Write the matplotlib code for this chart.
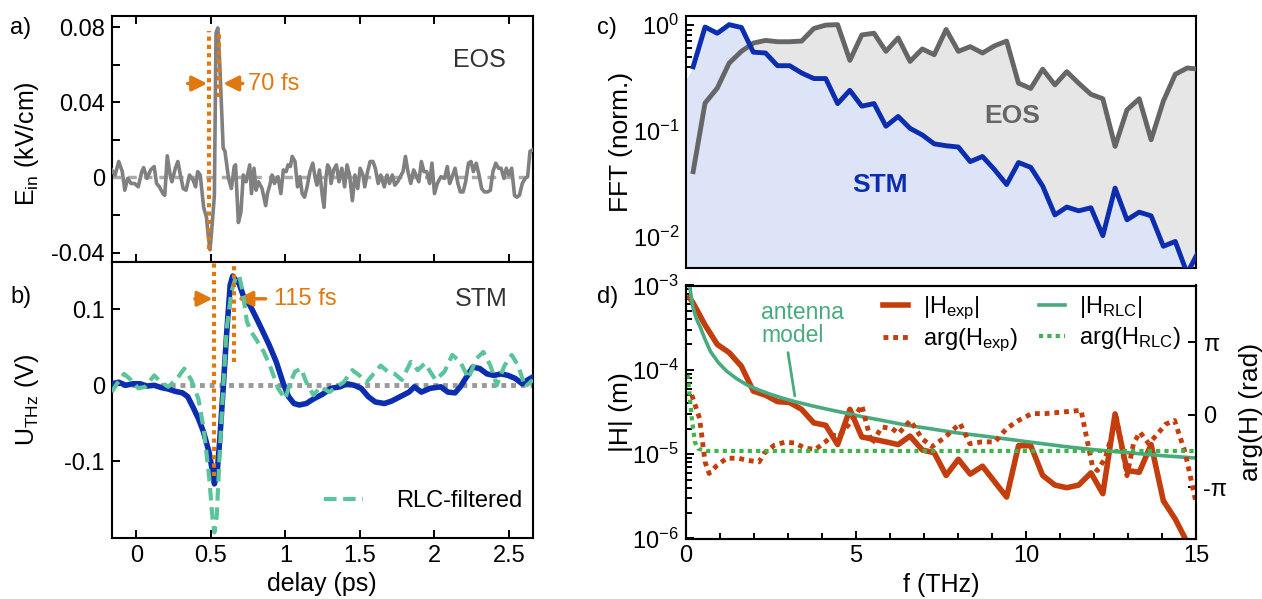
import numpy as np
import matplotlib
matplotlib.use('Agg')
import matplotlib.pyplot as plt
from matplotlib.ticker import FixedLocator, MultipleLocator, LogLocator, NullFormatter, FuncFormatter

plt.rcParams['font.family'] = ['Liberation Sans', 'DejaVu Sans']
plt.rcParams['mathtext.fontset'] = 'custom'
plt.rcParams['mathtext.rm'] = 'Liberation Sans'
plt.rcParams['mathtext.it'] = 'Liberation Sans:italic'
plt.rcParams['mathtext.bf'] = 'Liberation Sans:bold'

# ---------------- panel a: EOS transient ----------------
eos_t = [-0.166, -0.143, -0.119, -0.095, -0.078, -0.059, -0.036, -0.012, 0.012, 0.036,
         0.048, 0.071, 0.095, 0.119, 0.135, 0.154, 0.178, 0.190, 0.207, 0.226,
         0.238, 0.261, 0.278, 0.297, 0.314, 0.333, 0.356, 0.380, 0.397, 0.411,
         0.428, 0.451, 0.470, 0.482, 0.494, 0.511, 0.523, 0.534, 0.546, 0.558,
         0.582, 0.594, 0.618, 0.637, 0.656, 0.665, 0.684, 0.701, 0.717, 0.736,
         0.748, 0.760, 0.772, 0.789, 0.803, 0.819, 0.843, 0.867, 0.879, 0.895,
         0.910, 0.926, 0.950, 0.969, 0.986, 1.005, 1.017, 1.033, 1.045, 1.064,
         1.081, 1.097, 1.112, 1.128, 1.145, 1.164, 1.183, 1.200, 1.211, 1.228,
         1.247, 1.259, 1.271, 1.283, 1.295, 1.306, 1.323, 1.342, 1.359, 1.378,
         1.397, 1.413, 1.430, 1.449, 1.466, 1.485, 1.501, 1.520, 1.532, 1.551,
         1.568, 1.587, 1.603, 1.622, 1.639, 1.663, 1.682, 1.698, 1.717, 1.734,
         1.753, 1.770, 1.789, 1.805, 1.822, 1.841, 1.860, 1.876, 1.895, 1.912,
         1.929, 1.948, 1.967, 1.983, 2.000, 2.019, 2.043, 2.067, 2.086, 2.102,
         2.119, 2.138, 2.157, 2.173, 2.192, 2.209, 2.228, 2.245, 2.261, 2.280,
         2.299, 2.316, 2.335, 2.356, 2.375, 2.392, 2.411, 2.430, 2.447, 2.466,
         2.482, 2.499, 2.518, 2.537, 2.553, 2.570, 2.589, 2.608, 2.625, 2.641,
         2.660]
eos_E = [0.0040, 0.0013, 0.0085, 0.0031, -0.0068, -0.0005, -0.0032, -0.0032, -0.0050, 0.0031,
         0.0052, -0.0005, 0.0040, 0.0058, -0.0032, -0.0050, -0.0086, -0.0095, 0.0115, 0.0013,
         -0.0023, 0.0049, 0.0085, 0.0004, -0.0059, -0.0068, 0.0013, -0.0014, -0.0050, 0.0031,
         0.0013, -0.0159, -0.0213, -0.0312, -0.0385, -0.0222, -0.0095, 0.0769, 0.0796, 0.0625,
         0.0157, 0.0139, -0.0005, -0.0059, 0.0058, 0.0067, -0.0240, -0.0186, 0.0013, -0.0023,
         0.0022, 0.0067, -0.0086, 0.0049, -0.0068, -0.0023, -0.0059, -0.0150, -0.0086, -0.0041,
         0.0013, -0.0032, 0.0004, -0.0086, 0.0040, 0.0031, 0.0067, 0.0058, 0.0112, 0.0085,
         -0.0050, 0.0004, -0.0086, -0.0105, -0.0050, 0.0031, 0.0076, -0.0005, -0.0041, 0.0040,
         -0.0095, -0.0159, -0.0005, 0.0067, 0.0049, -0.0032, 0.0040, 0.0067, -0.0023, 0.0049,
         -0.0050, 0.0067, 0.0013, -0.0123, 0.0013, -0.0059, 0.0049, 0.0013, -0.0050, 0.0031,
         0.0085, 0.0085, 0.0049, -0.0032, 0.0013, -0.0050, 0.0013, -0.0032, 0.0013, -0.0041,
         -0.0023, 0.0004, 0.0031, 0.0112, 0.0031, -0.0032, 0.0040, 0.0013, -0.0023, 0.0085,
         0.0031, 0.0031, -0.0032, 0.0076, -0.0086, -0.0032, 0.0004, -0.0005, 0.0058, -0.0032,
         0.0004, 0.0049, -0.0032, -0.0077, -0.0077, -0.0023, 0.0076, 0.0085, 0.0031, 0.0076,
         0.0013, -0.0059, -0.0077, -0.0077, -0.0068, 0.0031, 0.0076, 0.0049, 0.0049, -0.0005,
         0.0049, 0.0013, 0.0049, -0.0095, -0.0105, -0.0095, -0.0032, -0.0005, 0.0004, 0.0139,
         0.0148]

# ---------------- panel b: STM signal and RLC-filtered ----------------
stm_t = [-0.166, -0.119, -0.071, -0.024, 0.024, 0.071, 0.119, 0.166, 0.214, 0.261,
         0.309, 0.344, 0.380, 0.416, 0.451, 0.487, 0.511, 0.523, 0.542, 0.558,
         0.582, 0.606, 0.629, 0.646, 0.665, 0.689, 0.724, 0.760, 0.796, 0.843,
         0.891, 0.938, 0.986, 1.021, 1.057, 1.093, 1.140, 1.188, 1.247, 1.306,
         1.366, 1.413, 1.461, 1.508, 1.556, 1.603, 1.663, 1.710, 1.770, 1.829,
         1.865, 1.912, 1.971, 2.043, 2.090, 2.138, 2.173, 2.209, 2.257, 2.304,
         2.352, 2.399, 2.447, 2.494, 2.542, 2.589, 2.625, 2.660]
stm_U = [0.002, 0.004, 0.000, 0.002, 0.002, -0.001, 0.000, -0.003, -0.005, -0.008,
         -0.010, -0.015, -0.029, -0.044, -0.062, -0.088, -0.114, -0.130, -0.114, -0.075,
         -0.004, 0.070, 0.132, 0.144, 0.139, 0.134, 0.114, 0.106, 0.092, 0.073,
         0.053, 0.031, 0.002, -0.015, -0.024, -0.026, -0.024, -0.018, -0.012, -0.004,
         -0.002, 0.002, 0.000, -0.004, -0.015, -0.022, -0.024, -0.021, -0.015, -0.009,
         -0.002, -0.009, -0.004, -0.002, -0.009, -0.010, -0.002, 0.009, 0.024, 0.022,
         0.015, 0.013, 0.015, 0.013, 0.009, 0.002, 0.007, 0.011]

rlc_t = [-0.166, -0.131, -0.083, -0.036, 0.012, 0.059, 0.119, 0.166, 0.214, 0.273,
         0.321, 0.368, 0.416, 0.451, 0.487, 0.511, 0.523, 0.539, 0.558, 0.582,
         0.606, 0.637, 0.665, 0.689, 0.713, 0.741, 0.772, 0.808, 0.855, 0.903,
         0.950, 0.998, 1.033, 1.064, 1.105, 1.140, 1.188, 1.235, 1.295, 1.342,
         1.390, 1.449, 1.496, 1.544, 1.591, 1.639, 1.686, 1.734, 1.781, 1.841,
         1.888, 1.936, 2.007, 2.067, 2.119, 2.173, 2.228, 2.280, 2.328, 2.375,
         2.418, 2.470, 2.518, 2.561, 2.608, 2.660]
rlc_U = [-0.009, 0.002, 0.015, 0.007, -0.004, -0.002, 0.013, 0.004, -0.002, 0.009,
         0.022, 0.007, -0.018, -0.057, -0.119, -0.176, -0.194, -0.172, -0.092, -0.004,
         0.075, 0.123, 0.141, 0.145, 0.123, 0.084, 0.070, 0.059, 0.044, 0.022,
         -0.004, -0.018, 0.004, 0.018, 0.022, 0.004, -0.013, -0.002, -0.009, -0.002,
         0.004, 0.020, 0.013, 0.004, 0.015, 0.026, 0.018, 0.015, 0.007, 0.031,
         0.020, 0.029, 0.007, 0.018, 0.040, 0.031, 0.009, 0.035, 0.044, 0.026,
         0.000, 0.026, 0.040, 0.026, -0.002, 0.007]

# ---------------- panel c: normalized spectra ----------------
fft_f = [0.21, 0.56, 0.92, 1.27, 1.63, 1.98, 2.34, 2.69, 3.05, 3.40,
         3.76, 4.11, 4.46, 4.82, 5.17, 5.53, 5.88, 6.24, 6.59, 6.95,
         7.30, 7.65, 8.01, 8.36, 8.72, 9.07, 9.43, 9.78, 10.14, 10.49,
         10.85, 11.20, 11.55, 11.91, 12.26, 12.62, 12.97, 13.33, 13.68, 14.04,
         14.39, 14.74, 15.10]
fft_stm = [0.40, 0.95, 0.83, 1.00, 0.94, 0.55, 0.54, 0.41, 0.41, 0.35,
           0.31, 0.31, 0.18, 0.24, 0.17, 0.18, 0.11, 0.136, 0.105, 0.091,
           0.075, 0.072, 0.070, 0.051, 0.057, 0.043, 0.031, 0.050, 0.045, 0.030,
           0.016, 0.019, 0.0175, 0.0187, 0.0102, 0.0287, 0.0144, 0.017, 0.0157, 0.0081,
           0.0090, 0.0045, 0.0075]
fft_eos = [0.041, 0.182, 0.252, 0.434, 0.56, 0.67, 0.71, 0.69, 0.69, 0.70,
           0.92, 0.99, 1.00, 0.46, 0.80, 0.83, 0.56, 0.75, 0.45, 0.59,
           0.52, 0.90, 0.56, 0.62, 0.54, 0.63, 0.70, 0.28, 0.25, 0.38,
           0.27, 0.36, 0.28, 0.22, 0.20, 0.071, 0.157, 0.20, 0.082, 0.19,
           0.34, 0.39, 0.38]
stm_fill_f0 = 0.0
stm_fill_v0 = 0.30

# ---------------- panel d: transfer function ----------------
hexp_f = [0.10, 0.21, 0.56, 0.92, 1.27, 1.63, 1.98, 2.34, 2.69, 3.05, 3.40,
          3.76, 4.11, 4.46, 4.82, 5.17, 5.53, 5.88, 6.24, 6.59, 6.95,
          7.30, 7.65, 8.01, 8.36, 8.72, 9.43, 9.78, 10.14, 10.49,
          10.85, 11.20, 11.55, 11.91, 12.26, 12.62, 12.97, 13.33, 13.68, 14.04,
          14.39, 14.74]
hexp_abs = [7.2e-4, 6.2e-4, 3.4e-4, 2.0e-4, 1.6e-4, 1.1e-4, 5.6e-5, 5.0e-5, 4.2e-5, 4.1e-5, 3.4e-5,
            2.35e-5, 2.2e-5, 1.3e-5, 3.4e-5, 1.6e-5, 1.5e-5, 1.4e-5, 1.3e-5, 1.64e-5, 1.12e-5,
            1.04e-5, 5.6e-6, 8.7e-6, 5.8e-6, 7.2e-6, 3.1e-6, 1.26e-5, 1.26e-5, 5.6e-6,
            4.3e-6, 4.0e-6, 4.3e-6, 6.0e-6, 3.4e-6, 3.0e-5, 6.4e-6, 6.1e-6, 1.3e-5, 2.8e-6,
            1.7e-6, 0.9e-6]

harg_f = [0.17, 0.40, 0.56, 0.68, 0.91, 1.20, 1.55, 1.80, 2.15, 2.30,
          2.60, 2.90, 3.20, 3.50, 3.80, 4.10, 4.30, 4.50, 4.76, 5.00,
          5.17, 5.46, 5.76, 6.06, 6.25, 6.60, 6.94, 7.24, 7.62, 8.06,
          8.35, 8.70, 9.09, 9.43, 9.78, 10.17, 10.56, 11.15, 11.62, 11.95,
          12.10, 12.34, 12.66, 12.97, 13.16, 13.35, 13.61, 13.86, 14.11, 14.37,
          14.68, 15.00]
harg_pi = [0.27, -0.05, -0.65, -0.81, -0.70, -0.60, -0.60, -0.63, -0.65, -0.53,
           -0.42, -0.38, -0.39, -0.46, -0.48, -0.375, -0.28, -0.30, -0.15, 0.00,
           0.13, -0.40, -0.17, -0.19, -0.26, -0.08, -0.33, -0.44, -0.31, -0.12,
           -0.40, -0.375, -0.375, -0.19, -0.08, 0.015, 0.015, 0.04, 0.06, -0.70,
           -0.77, -0.59, -0.04, -0.84, -0.40, -0.24, -0.40, -0.27, -0.13, -0.08,
           -0.52, -1.21]

rlc_f = [0.12, 0.20, 0.30, 0.42, 0.55, 0.72, 0.95, 1.20, 1.50, 1.80,
         2.15, 2.50, 2.85, 3.20, 3.70, 4.17, 4.65, 5.15, 5.80, 6.50,
         7.20, 7.92, 8.70, 9.50, 10.30, 11.15, 12.00, 13.00, 14.00, 15.00]
rlc_abs = [9.1e-4, 5.6e-4, 4.1e-4, 3.2e-4, 2.35e-4, 1.65e-4, 1.22e-4, 9.6e-5, 7.8e-5, 6.6e-5,
           5.75e-5, 5.1e-5, 4.6e-5, 4.2e-5, 3.75e-5, 3.4e-5, 3.1e-5, 2.8e-5, 2.5e-5, 2.2e-5,
           2.0e-5, 1.8e-5, 1.65e-5, 1.5e-5, 1.36e-5, 1.23e-5, 1.13e-5, 1.04e-5, 9.6e-6, 9.0e-6]
rlc_arg_f = [0.05, 0.17, 0.26, 0.36, 0.60, 15.0]
rlc_arg_pi = [0.55, -0.05, -0.375, -0.47, -0.50, -0.50]

# ---------------- style ----------------
C_GRAY = '#808080'
C_BLUE = '#0b2db0'
C_GDASH = '#5cc49a'
C_ORANGE = '#e07810'
C_RED = '#c43d0c'
C_GSOLID = '#48aa7e'
C_GDOT = '#3cb54a'
FS = 17

W, H = 1262, 599
fig = plt.figure(figsize=(W / 100, H / 100), dpi=100)

def px_axes(l, t, r, b):
    return fig.add_axes([l / W, 1 - b / H, (r - l) / W, (b - t) / H])

ax_a = px_axes(111.7, 15.5, 532.7, 262)
ax_b = px_axes(111.7, 262, 532.7, 538)
ax_c = px_axes(686, 15.5, 1196, 268.3)
ax_d = px_axes(686, 285.5, 1196, 538.5)

for ax in (ax_a, ax_b, ax_c, ax_d):
    for s in ax.spines.values():
        s.set_linewidth(1.5)
    ax.tick_params(which='both', direction='in', length=6, width=1.4, labelsize=FS, pad=5)

arr = dict(arrowstyle='-|>,head_length=0.9,head_width=0.45', color=C_ORANGE, lw=2.5,
           shrinkA=0, shrinkB=0, mutation_scale=10)

# ----- panel a -----
ax_a.plot(eos_t, eos_E, color=C_GRAY, lw=2.6, zorder=3)
ax_a.axhline(0, color='#aaaaaa', lw=2.5, ls=(0, (2.5, 2)), zorder=2)
ax_a.set_xlim(-0.166, 2.659)
ax_a.set_ylim(-0.045, 0.0862)
ax_a.yaxis.set_major_locator(FixedLocator([-0.04, 0, 0.04, 0.08]))
ax_a.set_yticklabels(['-0.04', '0', '0.04', '0.08'])
ax_a.yaxis.set_minor_locator(FixedLocator([-0.02, 0.02, 0.06]))
ax_a.xaxis.set_major_locator(MultipleLocator(0.5))
ax_a.tick_params(axis='x', top=True, bottom=True, labelbottom=False)
ax_a.vlines([0.487], -0.038, 0.078, colors=C_ORANGE, lw=3, linestyles=[(0, (1, 1))], zorder=4)
ax_a.vlines([0.551], 0.043, 0.078, colors=C_ORANGE, lw=3, linestyles=[(0, (1, 1))], zorder=4)
ax_a.annotate('', xy=(0.475, 0.050), xytext=(0.344, 0.050), arrowprops=arr)
ax_a.annotate('', xy=(0.582, 0.050), xytext=(0.713, 0.050), arrowprops=arr)
ax_a.text(0.748, 0.050, '70 fs', color=C_ORANGE, fontsize=FS, va='center', ha='left')
ax_a.text(2.30, 0.0625, 'EOS', color='#333333', fontsize=FS + 1, va='center', ha='center')
ax_a.set_ylabel('E$_\\mathregular{in}$ (kV/cm)', fontsize=FS + 1)
ax_a.yaxis.set_label_coords(-0.168, 0.48)

# ----- panel b -----
ax_b.axhline(0, color='#999999', lw=3.5, ls=(0, (1, 1)), zorder=2)
ax_b.plot(stm_t, stm_U, color=C_BLUE, lw=4, zorder=3)
ax_b.plot(rlc_t, rlc_U, color=C_GDASH, lw=3, ls=(0, (3, 1.6)), zorder=4, label='RLC-filtered')
ax_b.set_xlim(-0.166, 2.659)
ax_b.set_ylim(-0.2013, 0.1625)
ax_b.yaxis.set_major_locator(FixedLocator([-0.1, 0, 0.1]))
ax_b.set_yticklabels(['-0.1', '0', '0.1'])
ax_b.xaxis.set_major_locator(MultipleLocator(0.5))
ax_b.xaxis.set_major_formatter(FuncFormatter(lambda v, p: '%g' % v))
ax_b.vlines([0.523], -0.119, 0.1625, colors=C_ORANGE, lw=3, linestyles=[(0, (1, 1))], zorder=5)
ax_b.vlines([0.656], 0.031, 0.1625, colors=C_ORANGE, lw=3, linestyles=[(0, (1, 1))], zorder=5)
ax_b.annotate('', xy=(0.511, 0.114), xytext=(0.392, 0.114), arrowprops=arr)
ax_b.annotate('', xy=(0.677, 0.114), xytext=(0.867, 0.114), arrowprops=arr)
ax_b.text(0.926, 0.114, '115 fs', color=C_ORANGE, fontsize=FS, va='center', ha='left')
ax_b.text(2.31, 0.114, 'STM', color='#333333', fontsize=FS + 1, va='center', ha='center')
ax_b.set_xlabel('delay (ps)', fontsize=FS + 1)
ax_b.set_ylabel('U$_\\mathregular{THz}$ (V)', fontsize=FS + 1)
ax_b.yaxis.set_label_coords(-0.168, 0.5)
ax_b.legend(loc='center right', bbox_to_anchor=(0.975, 0.134), frameon=False, fontsize=FS,
            handlelength=1.65, handletextpad=1.4, borderpad=0, borderaxespad=0)

# ----- panel c -----
ax_c.set_yscale('log')
ax_c.fill_between(fft_f, fft_eos, 1e-4, color='#e6e6e6', lw=0, zorder=1)
ax_c.fill_between([stm_fill_f0] + fft_f, [stm_fill_v0] + fft_stm, 1e-4, color='#dde4f8', lw=0, zorder=2)
ax_c.plot(fft_f, fft_eos, color='#666666', lw=3.5, zorder=3)
ax_c.plot(fft_f, fft_stm, color=C_BLUE, lw=3.5, zorder=4)
ax_c.set_xlim(0, 15)
ax_c.set_ylim(0.00502, 1.22)
ax_c.set_yticks([1e-2, 1e-1, 1])
ax_c.set_yticklabels([r'$\mathregular{10^{-2}}$', r'$\mathregular{10^{-1}}$', r'$\mathregular{10^{0}}$'])
ax_c.yaxis.set_minor_locator(LogLocator(base=10, subs=np.arange(2, 10)))
ax_c.yaxis.set_minor_formatter(NullFormatter())
ax_c.xaxis.set_major_locator(MultipleLocator(5))
ax_c.xaxis.set_minor_locator(MultipleLocator(1))
ax_c.tick_params(axis='x', labelbottom=False)
ax_c.tick_params(which='minor', length=4)
ax_c.text(9.58, 0.136, 'EOS', color='#666666', fontsize=FS + 2, fontweight='bold', ha='center', va='center', zorder=5)
ax_c.text(5.71, 0.031, 'STM', color=C_BLUE, fontsize=FS + 2, fontweight='bold', ha='center', va='center', zorder=5)
ax_c.set_ylabel('FFT (norm.)', fontsize=FS + 2)
ax_c.yaxis.set_label_coords(-0.104, 0.5)

# ----- panel d -----
ax_d.set_yscale('log')
ax_d2 = ax_d.twinx()
l1, = ax_d.plot(hexp_f, hexp_abs, color=C_RED, lw=4, zorder=3)
l3, = ax_d.plot(rlc_f, rlc_abs, color=C_GSOLID, lw=2.6, zorder=4)
l2, = ax_d2.plot(harg_f, np.array(harg_pi) * np.pi, color=C_RED, lw=3.5, ls=(0, (1, 1)))
l4, = ax_d2.plot(rlc_arg_f, np.array(rlc_arg_pi) * np.pi, color=C_GDOT, lw=3, ls=(0, (1, 1)))
ax_d.set_xlim(0, 15)
ax_d.set_ylim(1e-6, 1e-3)
ax_d.set_yticks([1e-6, 1e-5, 1e-4, 1e-3])
ax_d.set_yticklabels([r'$\mathregular{10^{-6}}$', r'$\mathregular{10^{-5}}$', r'$\mathregular{10^{-4}}$', r'$\mathregular{10^{-3}}$'])
ax_d.yaxis.set_minor_locator(LogLocator(base=10, subs=np.arange(2, 10)))
ax_d.yaxis.set_minor_formatter(NullFormatter())
ax_d.xaxis.set_major_locator(MultipleLocator(5))
ax_d.xaxis.set_minor_locator(MultipleLocator(1))
ax_d.tick_params(which='minor', length=4)
ax_d2.set_ylim(-1.706 * np.pi, 1.78 * np.pi)
ax_d2.set_yticks([-np.pi, 0, np.pi])
ax_d2.set_yticklabels(['-π', '0', 'π'])
ax_d2.tick_params(direction='in', length=6, width=1.4, labelsize=FS, pad=5)
for s in ax_d2.spines.values():
    s.set_linewidth(1.5)
ax_d.set_xlabel('f (THz)', fontsize=FS + 1)
ax_d.set_ylabel('|H| (m)', fontsize=FS + 2)
ax_d.yaxis.set_label_coords(-0.104, 0.5)
ax_d2.set_ylabel('arg(H) (rad)', fontsize=FS + 2, rotation=90)
ax_d2.yaxis.set_label_coords(1.084, 0.5)
ax_d.annotate('', xy=(3.2, 4.9e-5), xytext=(3.0, 1.6e-4),
              arrowprops=dict(arrowstyle='-', color=C_GSOLID, lw=2, shrinkA=0, shrinkB=0))
ax_d.text(0.148, 0.846, 'antenna\nmodel', transform=ax_d.transAxes, color=C_GSOLID,
          fontsize=FS - 0.5, ha='left', va='center', linespacing=1.0)
ax_d2.legend([l1, l2, l3, l4],
             ['|H$_\\mathregular{exp}$|', 'arg(H$_\\mathregular{exp}$)',
              '|H$_\\mathregular{RLC}$|', 'arg(H$_\\mathregular{RLC}$)'],
             ncol=2, loc='upper right', bbox_to_anchor=(0.97, 0.965), frameon=False,
             fontsize=FS, handlelength=1.1, handletextpad=0.6, columnspacing=0.9,
             labelspacing=0.2, borderpad=0, borderaxespad=0)

# panel letters
fig.text(10 / W, 1 - 28 / H, 'a)', fontsize=FS, va='center', ha='left')
fig.text(10 / W, 1 - 297 / H, 'b)', fontsize=FS, va='center', ha='left')
fig.text(597 / W, 1 - 28 / H, 'c)', fontsize=FS, va='center', ha='left')
fig.text(597 / W, 1 - 297 / H, 'd)', fontsize=FS, va='center', ha='left')

fig.savefig('out.png', dpi=100)
